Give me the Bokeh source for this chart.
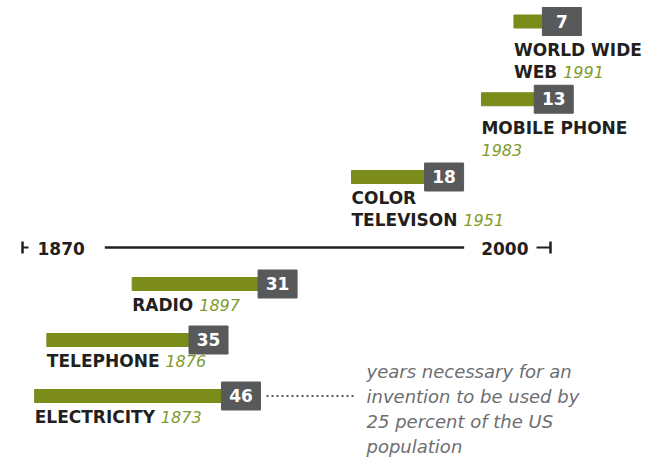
from bokeh.plotting import figure
from bokeh.models import ColumnDataSource, Range1d
from bokeh.embed import file_html
from bokeh.resources import INLINE
from bokeh.core.properties import value

# ---------------- data ----------------
inventions = ["ELECTRICITY", "TELEPHONE", "RADIO", "COLOR\nTELEVISON", "MOBILE PHONE\n", "WORLD WIDE\nWEB"]
invented = [1873, 1876, 1897, 1951, 1983, 1991]
years_to_quarter = [46, 35, 31, 18, 13, 7]
timeline = [1870, 2000]
note_lines = ["years necessary for an", "invention to be used by",
              "25 percent of the US", "population"]

# ---------------- styles / layout ----------------
FONT = value("DejaVu Sans")
BAR_GREEN = "#7b8c1b"
YEAR_GREEN = "#7f9b2b"
BOX_GREY = "#58595b"
INK = "#231f20"
NOTE_GREY = "#6d6e71"
NAME_SIZE, YEAR_SIZE, NUM_SIZE, NOTE_SIZE = 17, 16, 17, 18

W, H = 646, 458
TL_LEFT_PX, TL_RIGHT_PX = 22, 550
PX_PER_YEAR = (TL_RIGHT_PX - TL_LEFT_PX) / (timeline[1] - timeline[0])
X0 = timeline[0] - TL_LEFT_PX / PX_PER_YEAR
X1 = X0 + W / PX_PER_YEAR


def px(d):
    return d / PX_PER_YEAR


def fix(size):
    # alphabetic anchor correction for the text layout
    return 0.38 * size


AXIS_Y = 247
BAR_H = 13
BOX_W, BOX_H = 39, 28
LABEL_DY = 27
LABEL_EXTRA = 8      # extra gap when the label runs under the number box
LINE_H = 22
N_BELOW = len(inventions) // 2

BOLD_EM = {" ": .348, "A": .774, "B": .762, "C": .734, "D": .830, "E": .683, "F": .683,
           "H": .836, "I": .372, "L": .637, "M": .995, "N": .836, "O": .850, "P": .733,
           "R": .770, "S": .720, "T": .682, "V": .774, "W": 1.103, "Y": .724}


def text_w(s, size):
    return sum(BOLD_EM.get(c, .696) for c in s) * size


def row_y(i):
    if i < N_BELOW:
        return AXIS_Y + 36.5 + (N_BELOW - 1 - i) * 56
    return AXIS_Y - 70.5 - (i - N_BELOW) * 77.75


ys = [row_y(i) for i in range(len(inventions))]
ends = [s + d for s, d in zip(invented, years_to_quarter)]

bars = ColumnDataSource(dict(y=ys, left=invented, right=ends))
boxes = ColumnDataSource(dict(
    y=ys, left=ends, right=[e + px(BOX_W) for e in ends],
    cx=[e + px(BOX_W / 2) for e in ends], ty=[y + 6 - fix(NUM_SIZE) for y in ys],
    num=[str(d) for d in years_to_quarter]))

name_x, name_y, name_t = [], [], []
year_x, year_y, year_t = [], [], []
for i, (nm, s) in enumerate(zip(inventions, invented)):
    lines = nm.split("\n")
    first_w = text_w(lines[0], NAME_SIZE)
    under_box = first_w > years_to_quarter[i] * PX_PER_YEAR
    base = ys[i] + LABEL_DY + (LABEL_EXTRA if under_box else 0)
    for j, ln in enumerate(lines):
        if ln:
            name_x.append(s)
            name_y.append(base + j * LINE_H - fix(NAME_SIZE))
            name_t.append(ln)
    last = lines[-1]
    off = text_w(last + " ", NAME_SIZE) if last else 0
    year_x.append(s + px(off))
    year_y.append(base + (len(lines) - 1) * LINE_H - fix(YEAR_SIZE))
    year_t.append(str(s))

p = figure(width=W, height=H, x_range=Range1d(X0, X1), y_range=Range1d(H, 0),
           x_axis_type=None, y_axis_type=None, toolbar_location=None,
           output_backend="svg", min_border=0)
p.outline_line_color = None
p.background_fill_color = "white"

# timeline axis
t0, t1 = timeline
lab_w = text_w(str(t0), NAME_SIZE)
p.segment(x0=[t0, t1], y0=[AXIS_Y - 6] * 2, x1=[t0, t1], y1=[AXIS_Y + 6] * 2,
          line_color=INK, line_width=2.5)
p.segment(x0=[t0, t1 - px(14)], y0=[AXIS_Y] * 2, x1=[t0 + px(6), t1], y1=[AXIS_Y] * 2,
          line_color=INK, line_width=2)
p.segment(x0=[t0 + px(15 + lab_w + 20)], y0=[AXIS_Y],
          x1=[t1 - px(22 + lab_w + 17)], y1=[AXIS_Y], line_color=INK, line_width=2.5)
p.text(x=[t0 + px(15)], y=[AXIS_Y + 7 - fix(NAME_SIZE)], text=[str(t0)], text_font=FONT,
       text_font_style="bold", text_font_size=f"{NAME_SIZE}px", text_color=INK,
       text_align="left", text_baseline="alphabetic")
p.text(x=[t1 - px(22)], y=[AXIS_Y + 7 - fix(NAME_SIZE)], text=[str(t1)], text_font=FONT,
       text_font_style="bold", text_font_size=f"{NAME_SIZE}px", text_color=INK,
       text_align="right", text_baseline="alphabetic")

# bars and number boxes
p.hbar(y="y", left="left", right="right", height=BAR_H, color=BAR_GREEN, source=bars)
p.hbar(y="y", left="left", right="right", height=BOX_H, color=BOX_GREY, source=boxes)
p.text(x="cx", y="ty", text="num", source=boxes, text_font=FONT, text_font_style="bold",
       text_font_size=f"{NUM_SIZE}px", text_color="white", text_align="center",
       text_baseline="alphabetic")

# labels
p.text(x=name_x, y=name_y, text=name_t, text_font=FONT, text_font_style="bold",
       text_font_size=f"{NAME_SIZE}px", text_color=INK, text_align="left",
       text_baseline="alphabetic")
p.text(x=year_x, y=year_y, text=year_t, text_font=FONT, text_font_style="italic",
       text_font_size=f"{YEAR_SIZE}px", text_color=YEAR_GREEN, text_align="left",
       text_baseline="alphabetic")

# note with dotted connector from the longest bar
k = years_to_quarter.index(max(years_to_quarter))
note_x = X0 + px(366)
p.segment(x0=[ends[k] + px(BOX_W + 6)], y0=[ys[k]], x1=[note_x - px(10)], y1=[ys[k]],
          line_color=BOX_GREY, line_width=2, line_dash="2 3")
p.text(x=[note_x] * len(note_lines),
       y=[378 + j * 25 - fix(NOTE_SIZE) for j in range(len(note_lines))],
       text=note_lines, text_font=FONT, text_font_style="italic",
       text_font_size=f"{NOTE_SIZE}px", text_color=NOTE_GREY, text_align="left",
       text_baseline="alphabetic")

open("out.html", "w").write(file_html(p, INLINE))
